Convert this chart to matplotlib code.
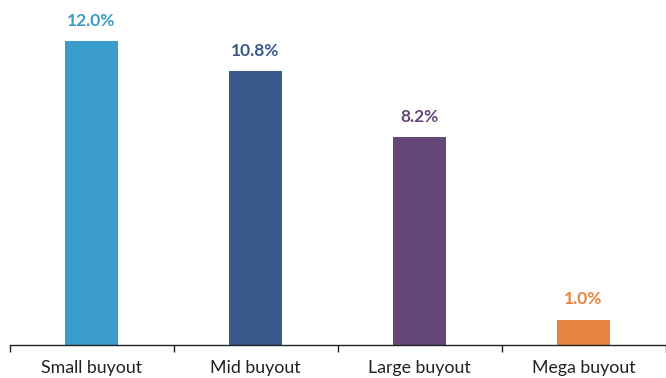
import matplotlib
matplotlib.use("Agg")
import matplotlib.pyplot as plt

categories = ["Small buyout", "Mid buyout", "Large buyout", "Mega buyout"]
values = [12.0, 10.8, 8.2, 1.0]
labels = ["12.0%", "10.8%", "8.2%", "1.0%"]
colors = ["#3A9CC8", "#3A5A8C", "#654879", "#E6843F"]

plt.rcParams['font.family'] = ['Lato', 'DejaVu Sans']

fig = plt.figure(figsize=(6.66, 3.78), dpi=100)
ax = fig.add_axes([9.5/666, 33/378, 656/666, 345/378])

x = list(range(len(categories)))
ax.bar(x, values, width=0.32, color=colors)
for xi, v, lab, c in zip(x, values, labels, colors):
    ax.annotate(lab, (xi, v), xytext=(0, 9), textcoords="offset points",
                ha="center", va="bottom", color=c, fontsize=12.5, fontweight="bold")

ax.set_xlim(-0.5, 3.5)
ax.set_ylim(0, 345/25.33)
for s in ["top", "right", "left"]:
    ax.spines[s].set_visible(False)
ax.spines["bottom"].set_color("#222222")
ax.spines["bottom"].set_linewidth(1.0)
ax.set_yticks([])
ax.set_xticks([-0.5, 0.5, 1.5, 2.5, 3.5])
ax.set_xticklabels([])
ax.set_xticks(x, minor=True)
ax.set_xticklabels(categories, minor=True, fontsize=12.8, color="#222222")
ax.tick_params(axis="x", which="major", length=5, width=1, color="#222222")
ax.tick_params(axis="x", which="minor", length=0, pad=11)

fig.savefig("out.png", dpi=100)
